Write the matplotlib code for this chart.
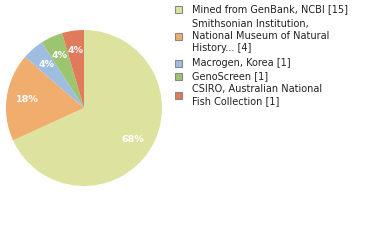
import matplotlib
matplotlib.use("Agg")
import matplotlib.pyplot as plt
from matplotlib.patches import Rectangle

# Sample sources and their record counts
sources = [
    "Mined from GenBank, NCBI",
    "Smithsonian Institution,\nNational Museum of Natural\nHistory...",
    "Macrogen, Korea",
    "GenoScreen",
    "CSIRO, Australian National\nFish Collection",
]
counts = [15, 4, 1, 1, 1]
colors = ["#dde39f", "#f0ad6e", "#9fbde0", "#9dc56f", "#e07a5a"]

W, H = 380, 240
fig = plt.figure(figsize=(W / 100, H / 100), dpi=100)

# Pie area
ax = fig.add_axes([6 / W, (H - 186) / H, 156 / W, 156 / H])


def pct_label(p):
    return "%d%%" % int(p)


wedges, texts, autotexts = ax.pie(
    counts,
    colors=colors,
    startangle=90,
    counterclock=False,
    autopct=pct_label,
    pctdistance=0.74,
    wedgeprops=dict(linewidth=0),
    textprops=dict(color="white", fontsize=6.8, fontweight="bold", family="DejaVu Sans"),
)
ax.set_aspect("equal")
ax.set_xlim(-1, 1)
ax.set_ylim(-1, 1)
ax.axis("off")

# Legend drawn in pixel coordinates
lax = fig.add_axes([0, 0, 1, 1])
lax.set_xlim(0, W)
lax.set_ylim(H, 0)
lax.axis("off")

line_h = 12.1
entry_top = [9, 24, 63, 76, 89]
for name, n, c, y in zip(sources, counts, colors, entry_top):
    lines = (name + " [%d]" % n).split("\n")
    yc = y + (len(lines) - 1) * line_h / 2
    lax.add_patch(Rectangle((174.5, yc - 3.5), 7, 7, facecolor=c,
                            edgecolor="#888888", linewidth=0.8))
    for i, ln in enumerate(lines):
        lax.text(192, y + i * line_h, ln, fontsize=7.0, color="#222222",
                 va="center", ha="left", family="DejaVu Sans")

fig.savefig("out.png", dpi=100)
